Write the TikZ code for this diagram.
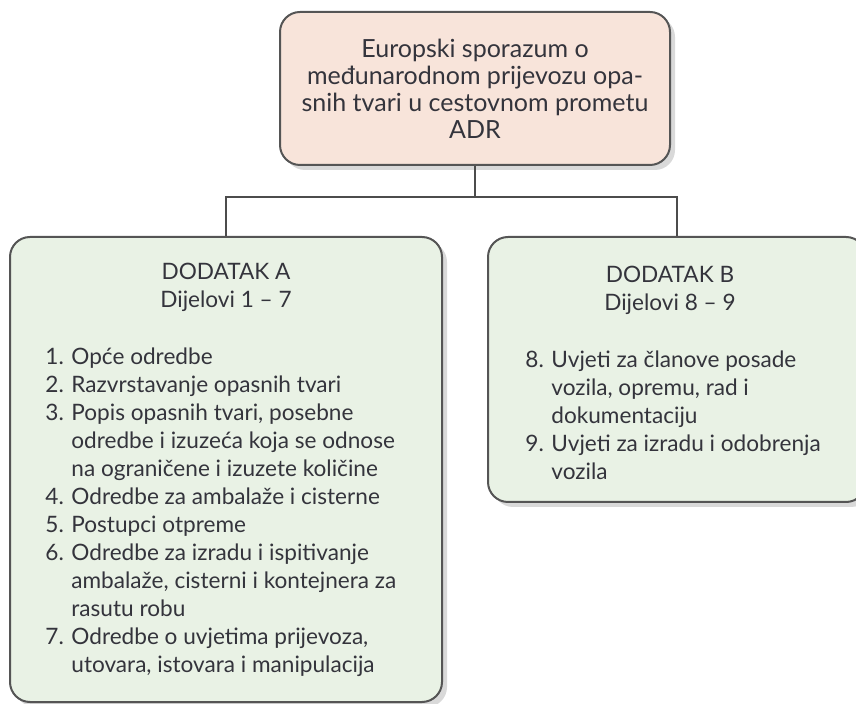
\documentclass[tikz,border=0pt]{standalone}
\usepackage{fontspec}
\setmainfont{Lato}
\usetikzlibrary{shadows}
\definecolor{adrpink}{HTML}{F8E4DA}
\definecolor{adrgreen}{HTML}{E9F2E5}
\definecolor{adrline}{HTML}{555555}
\definecolor{adrtext}{HTML}{34343C}
\tikzset{
  adrbox/.style={draw=adrline, line width=1pt, rounded corners=10pt,
    inner sep=0pt, drop shadow={shadow xshift=2.5pt, shadow yshift=-2.5pt,
    opacity=0.25, fill=black!60}},
  adrtxt/.style={inner sep=0pt, text=adrtext,
    font=\fontsize{12.5pt}{13.4pt}\selectfont},
  adrlist/.style={adrtxt, font=\fontsize{11.3pt}{14pt}\selectfont},
  adrlink/.style={draw=adrline!90!black, line width=0.8pt}
}
\newcommand{\itm}[1]{\makebox[13pt][l]{#1}}
\newcommand{\cnt}{\hspace*{13pt}}
\begin{document}
\begin{tikzpicture}[x=0.5pt,y=-0.5pt]
\useasboundingbox (0,0) rectangle (856,704);
% boxes
\node[adrbox, fill=adrpink, minimum width=195pt, minimum height=76.5pt] (adr) at (475,88.5) {};
\node[adrbox, fill=adrgreen, minimum width=216pt, minimum height=232.5pt] (dodA) at (226,469.5) {};
\node[adrbox, fill=adrgreen, minimum width=189pt, minimum height=132.5pt] (dodB) at (677,369.5) {};
% links
\coordinate (split) at (475,197);
\draw[adrlink] (adr.south) -- (split);
\draw[adrlink] (split) -| (dodA.north);
\draw[adrlink] (split) -| (dodB.north);
% texts
\node[adrtxt, align=center, anchor=north] (adrtext) at (475,39)
  {Europski sporazum o\\međunarodnom prijevozu opa-\\snih tvari u cestovnom prometu\\ADR};
\node[adrlist, align=center, anchor=north] (headA) at (226,263)
  {DODATAK A\\Dijelovi 1 – 7};
\node[adrlist, align=left, anchor=north west] (listA) at (45,347)
  {\itm{1.}Opće odredbe\\
   \itm{2.}Razvrstavanje opasnih tvari\\
   \itm{3.}Popis opasnih tvari, posebne\\
   \cnt odredbe i izuzeća koja se odnose\\
   \cnt na ograničene i izuzete količine\\
   \itm{4.}Odredbe za ambalaže i cisterne\\
   \itm{5.}Postupci otpreme\\
   \itm{6.}Odredbe za izradu i ispitivanje\\
   \cnt ambalaže, cisterni i kontejnera za\\
   \cnt rasutu robu\\
   \itm{7.}Odredbe o uvjetima prijevoza,\\
   \cnt utovara, istovara i manipulacija};
\node[adrlist, align=center, anchor=north] (headB) at (670,266)
  {DODATAK B\\Dijelovi 8 – 9};
\node[adrlist, align=left, anchor=north west] (listB) at (525,350)
  {\itm{8.}Uvjeti za članove posade\\
   \cnt vozila, opremu, rad i\\
   \cnt dokumentaciju\\
   \itm{9.}Uvjeti za izradu i odobrenja\\
   \cnt vozila};
\end{tikzpicture}
\end{document}
